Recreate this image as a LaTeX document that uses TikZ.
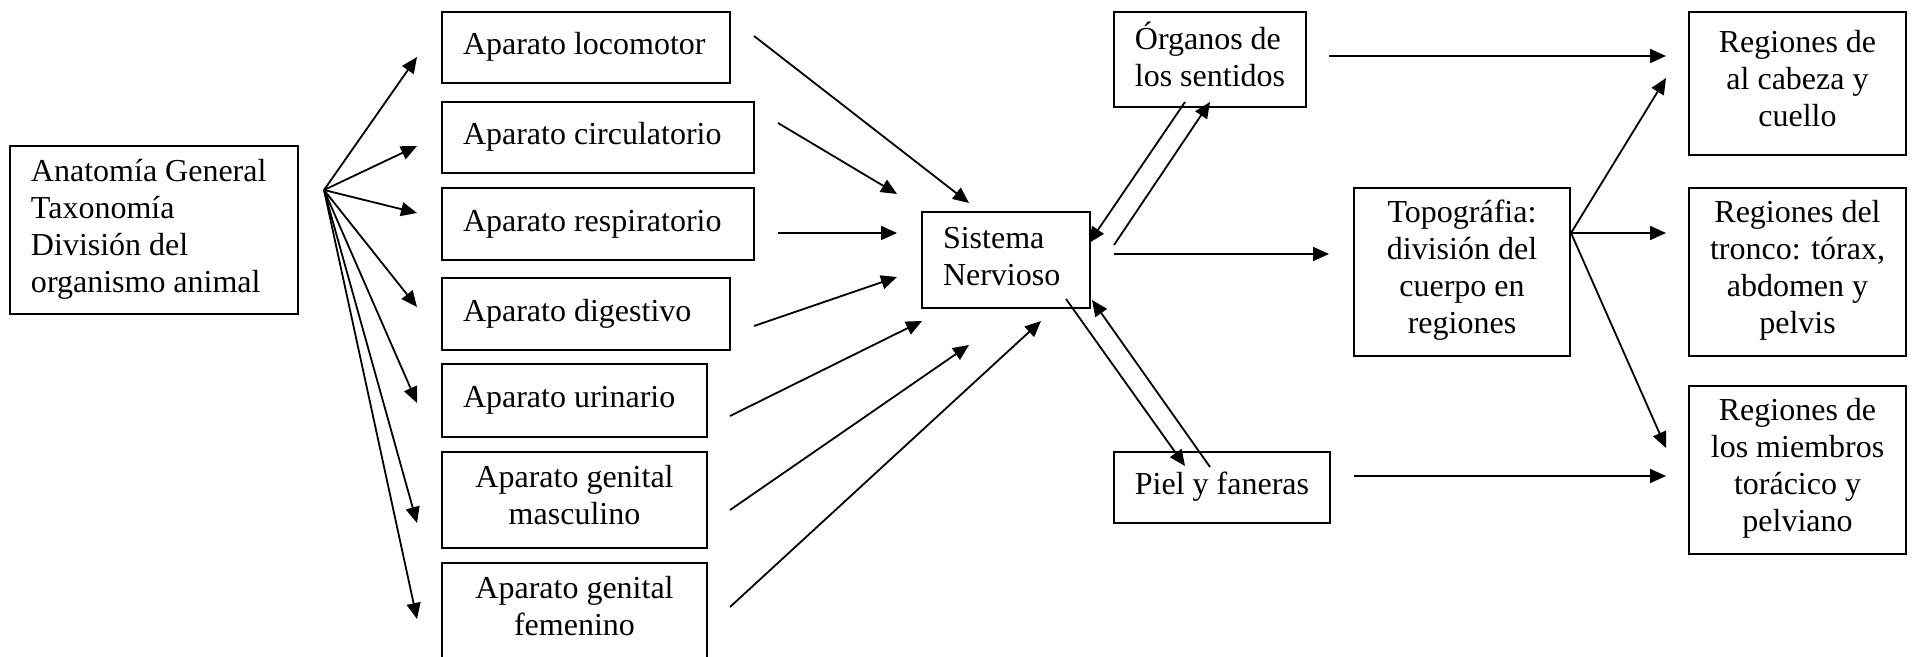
\documentclass[tikz,border=0pt]{standalone}
\usepackage{fontspec}
\setmainfont{Liberation Serif}
\usetikzlibrary{arrows.meta}

\tikzset{
  caja/.style={draw, line width=1pt, inner xsep=10.5pt, inner ysep=0pt,
    font=\fontsize{16}{18.5}\selectfont,
    execute at begin node=\strut, execute at end node=\strut},
  izq/.style={caja, align=flush left, text width=#1},
  cen/.style={caja, align=flush center, minimum width=#1},
  flecha/.style={line width=0.9pt, -{Triangle[length=8pt,width=7pt]}}
}

\begin{document}
\begin{tikzpicture}[x=0.5pt, y=-0.5pt]
\useasboundingbox (0,0) rectangle (1914,657);

\node[izq=123pt, minimum height=84pt] (anatomia) at (154,230)
  {Anatomía General\\Taxonomía\\División del\\organismo animal};

\node[izq=123pt, minimum height=35.5pt] (locomotor) at (586,47.5) {Aparato locomotor};
\node[izq=135pt, minimum height=35.5pt] (circulatorio) at (598,137.5) {Aparato circulatorio};
\node[izq=135pt, minimum height=36pt] (respiratorio) at (598,224) {Aparato respiratorio};
\node[izq=123pt, minimum height=36pt] (digestivo) at (586,314) {Aparato digestivo};
\node[izq=111.5pt, minimum height=36.5pt] (urinario) at (574.5,400.5) {Aparato urinario};
\node[cen=132.5pt, minimum height=48pt] (masculino) at (574.5,500) {Aparato genital\\masculino};
\node[cen=132.5pt, minimum height=48pt] (femenino) at (574.5,611) {Aparato genital\\femenino};

\node[izq=63pt, minimum height=48pt] (sistema) at (1006,260) {Sistema\\Nervioso};
\node[caja, align=flush left, minimum width=96pt, minimum height=47.5pt] (organos) at (1210,59.5)
  {Órganos de\\los sentidos};
\node[caja, align=flush left, minimum width=108pt, minimum height=35.5pt] (piel) at (1222,487.5)
  {Piel y faneras};
\node[cen=108pt, minimum height=84pt] (topografia) at (1462,272)
  {Topográfia:\\división del\\cuerpo en\\regiones};

\node[cen=108.5pt, minimum height=71.5pt] (cabeza) at (1797.5,83.5)
  {Regiones de\\al cabeza y\\cuello};
\node[cen=108.5pt, minimum height=84pt] (tronco) at (1797.5,272)
  {Regiones del\\tronco: tórax,\\abdomen y\\pelvis};
\node[cen=108.5pt, minimum height=84pt] (miembros) at (1797.5,470)
  {Regiones de\\los miembros\\torácico y\\pelviano};

% puntos libres de las flechas
\coordinate (hubA) at (324,190);
\coordinate (hubT) at (1571,233);
\foreach \n/\y in {aLoc/57, aCir/146, aRes/213, aDig/307, aUri/403, aMas/523, aFem/619}
  \coordinate (\n) at (417,\y);
\foreach \n/\p in {sLoc/{754,36}, sCir/{778,123}, sRes/{778,233}, sDig/{754,326},
                   sUri/{730,416}, sMas/{730,510}, sFem/{730,607},
                   nLoc/{969,203}, nCir/{897,194}, nRes/{897,233}, nDig/{897,277},
                   nUri/{922,321}, nMas/{969,345}, nFem/{1041,321}}
  \coordinate (\n) at (\p);
\coordinate (oSis1) at (1185,102);
\coordinate (oSis2) at (1089,243);
\coordinate (sOrg1) at (1114,245);
\coordinate (sOrg2) at (1210,102);
\coordinate (sTop1) at (1114,254);
\coordinate (sTop2) at (1329,254);
\coordinate (sPie1) at (1066,299);
\coordinate (sPie2) at (1185,466);
\coordinate (pSis1) at (1210,467);
\coordinate (pSis2) at (1092,300);
\coordinate (oCab1) at (1329,56);
\coordinate (oCab2) at (1666,56);
\coordinate (pMie1) at (1354,476);
\coordinate (pMie2) at (1666,476);
\coordinate (tCab) at (1666,78);
\coordinate (tTro) at (1666,233);
\coordinate (tMie) at (1666,448);

\foreach \n in {aLoc, aCir, aRes, aDig, aUri, aMas, aFem}
  \draw[flecha] (hubA) -- (\n);
\foreach \n in {Loc, Cir, Res, Dig, Uri, Mas, Fem}
  \draw[flecha] (s\n) -- (n\n);

\draw[flecha] (oSis1) -- (oSis2);
\draw[flecha] (sOrg1) -- (sOrg2);
\draw[flecha] (sTop1) -- (sTop2);
\draw[flecha] (sPie1) -- (sPie2);
\draw[flecha] (pSis1) -- (pSis2);
\draw[flecha] (oCab1) -- (oCab2);
\draw[flecha] (pMie1) -- (pMie2);

\foreach \n in {tCab, tTro, tMie}
  \draw[flecha] (hubT) -- (\n);
\end{tikzpicture}
\end{document}
